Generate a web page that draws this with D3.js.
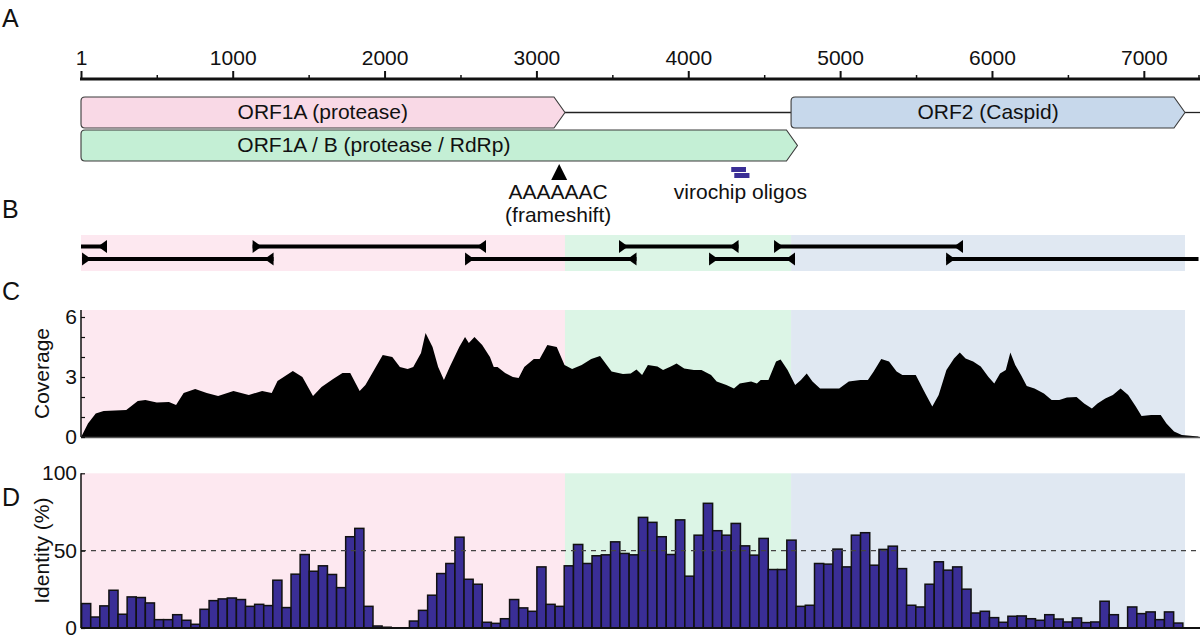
<!DOCTYPE html>
<html><head><meta charset="utf-8">
<script src="https://cdn.jsdelivr.net/npm/d3@7"></script>
<style>
body{margin:0;background:#fff}
svg text{font-family:"Liberation Sans",Arial,Helvetica,sans-serif;fill:#111}
</style>
</head><body>
<svg id="chart" width="1200" height="638"></svg>
<script>
// ---------------- DATA ----------------
const genomeLength = 7360;
const axisMajorTicks = [1, 1000, 2000, 3000, 4000, 5000, 6000, 7000];
const axisMinorTicks = [500, 1500, 2500, 3500, 4500, 5500, 6500, 7360];

const geneNames = ["ORF1A (protease)", "ORF1A / B (protease / RdRp)", "ORF2 (Caspid)"];
const geneStart = [1, 1, 4677];
const geneEnd = [3188, 4719, 7271];
const geneRow = [0, 1, 0];
const geneLabelPos = [1593, 1930, 5974];

const regionStart = [1, 3188, 4677];
const regionEnd = [3188, 4677, 7271];

const frameshiftPos = 3150;
const frameshiftLabel = ["AAAAAAC", "(frameshift)"];
const oligoStart = [4283, 4303];
const oligoEnd = [4380, 4403];
const oligoLabel = "virochip oligos";

// panel B amplicons (row 0 = upper, row 1 = lower)
const ampStart = [1, 1131, 3544, 4565, 8, 2530, 4137, 5698];
const ampEnd = [172, 2668, 4331, 5809, 1269, 3659, 4703, 7360];
const ampRow = [0, 0, 0, 0, 1, 1, 1, 1];
const ampLeftArrow = [false, true, true, true, true, true, true, true];
const ampRightArrow = [true, true, true, true, true, true, true, false];

// panel C coverage
const covPos = [2, 47, 98, 150, 299, 375, 425, 500, 580, 627, 677, 753, 829, 904, 1005, 1106, 1194, 1257, 1295, 1396,
  1459, 1529, 1585, 1661, 1723, 1774, 1836, 1874, 1988, 2051, 2101, 2152, 2189, 2240, 2270, 2316, 2353, 2391, 2429, 2492,
  2530, 2555, 2592, 2643, 2694, 2719, 2744, 2794, 2845, 2883, 2920, 2983, 3021, 3072, 3134, 3185, 3235, 3298, 3361, 3419,
  3495, 3570, 3621, 3659, 3696, 3734, 3797, 3834, 3885, 3923, 3973, 4037, 4087, 4150, 4187, 4251, 4301, 4339, 4414, 4452,
  4477, 4528, 4578, 4608, 4654, 4704, 4742, 4780, 4818, 4868, 4931, 4994, 5057, 5133, 5183, 5221, 5271, 5322, 5372, 5410,
  5498, 5561, 5607, 5649, 5700, 5750, 5788, 5826, 5876, 5926, 5977, 6015, 6053, 6091, 6121, 6153, 6191, 6229, 6280, 6342,
  6393, 6443, 6494, 6557, 6607, 6658, 6695, 6746, 6796, 6847, 6897, 6947, 6985, 7048, 7111, 7149, 7199, 7250, 7360];
const covVal = [0, 0.68, 1.18, 1.3, 1.35, 1.8, 1.85, 1.72, 1.75, 1.6, 2.2, 2.4, 2.2, 2.05, 2.3, 2.1, 2.3, 2.2, 2.8, 3.3,
  3.0, 2.05, 2.5, 2.9, 3.2, 3.2, 2.3, 2.6, 4.1, 4.0, 3.5, 3.4, 3.5, 4.2, 5.2, 4.5, 3.5, 2.85, 3.5, 4.5,
  5.0, 4.7, 5.0, 4.6, 4.0, 3.5, 3.5, 3.2, 3.0, 2.95, 3.5, 3.9, 3.9, 4.6, 4.5, 3.6, 3.4, 3.6, 3.9, 4.05,
  3.27, 3.15, 3.18, 3.38, 3.1, 3.6, 3.52, 3.35, 3.52, 3.68, 3.43, 3.35, 3.35, 3.1, 2.77, 2.6, 2.43, 2.68, 2.77, 2.68,
  2.85, 2.85, 3.77, 3.88, 3.35, 2.6, 2.85, 3.18, 2.77, 2.43, 2.43, 2.43, 2.77, 2.85, 2.85, 3.27, 3.9, 3.77, 3.27, 3.1,
  3.1, 2.18, 1.52, 2.1, 3.35, 3.93, 4.22, 3.93, 3.77, 3.52, 3.0, 2.68, 3.18, 3.35, 4.22, 3.6, 3.1, 2.55, 2.43, 2.18,
  1.85, 1.85, 1.98, 2.0, 1.68, 1.43, 1.68, 1.93, 2.1, 2.43, 2.1, 1.52, 1.05, 1.1, 1.1, 0.68, 0.27, 0.1, 0.02];
const covTicks = [0, 1, 2, 3, 4, 5, 6];
const covLabels = [0, 3, 6];

// panel D identity (%) per window, grouped by ORF region
const identityRegionStart = [5, 3183, 4710];
const identityRegionEnd = [3183, 4710, 7257];
const identityORF1A = [15.8, 7.1, 14.3, 24.4, 8.9, 20.1, 19.7, 16.2, 5.4, 5.4, 8.6, 5.0, 2.4, 12.1, 17.7, 18.8, 19.4, 18.4, 14.0, 15.3,
  14.5, 30.9, 13.2, 34.8, 47.5, 36.7, 40.2, 34.6, 26.1, 59.0, 64.4, 14.0, 1.3, 0.5, 0, 0, 4.5, 11.4, 21.2, 35.2,
  41.7, 58.7, 31.5, 28.3, 3.7, 3.0, 6.0, 18.4, 13.0, 10.8, 39.5, 15.3, 14.0];
const identityORF1B = [40.2, 54.0, 41.7, 46.7, 47.3, 55.7, 48.2, 47.3, 71.5, 68.3, 59.0, 47.5, 69.9, 33.5, 60.0, 80.6, 62.9, 60.0, 67.6, 53.1,
  47.1, 57.9, 37.8, 37.8, 56.8];
const identityORF2 = [14.0, 14.7, 41.7, 41.3, 51.0, 39.5, 60.0, 61.6, 40.6, 50.8, 52.9, 38.4, 14.7, 13.6, 28.3, 42.8, 37.4, 39.5, 25.1, 9.7,
  10.8, 6.7, 3.7, 7.6, 7.8, 6.0, 5.0, 8.6, 5.8, 3.9, 6.5, 3.5, 3.9, 17.3, 8.6, 0, 13.6, 9.3, 10.4, 5.4, 10.4, 3.2];
const identityThreshold = 50;
const identityTicks = [0, 50, 100];

const panelLetters = ["A", "B", "C", "D"];

// ---------------- STYLE ----------------
const geneFill = ["#f9d9e6", "#c4efd5", "#c7d8eb"];
const regionFill = ["#fde8f0", "#dcf5e6", "#e0e8f2"];
const barFill = "#3a2e96";
const FS = 21;

// ---------------- DRAW ----------------
const svg = d3.select("#chart");
const x = d3.scaleLinear().domain([0, genomeLength]).range([80.85, 1198.5]);

// Panel letters
const letterY = [27, 218, 300, 506];
svg.selectAll("text.letter").data(panelLetters).join("text")
  .attr("class", "letter").attr("x", 2).attr("y", (d, i) => letterY[i])
  .style("font-size", "25px").text(d => d);

// ---- Panel A: top axis ----
const axisY = 79;
const gAx = svg.append("g").attr("transform", `translate(0,${axisY})`);
gAx.call(d3.axisTop(x).tickValues(axisMajorTicks).tickSize(8).tickSizeOuter(0).tickPadding(6).tickFormat(d3.format("d")));
gAx.select(".domain").remove();
gAx.selectAll(".tick line").attr("stroke", "#111").attr("stroke-width", 2);
gAx.selectAll(".tick text").style("font-size", FS + "px").style("font-family", '"Liberation Sans",Arial,sans-serif').attr("fill", "#111");
const gAxMin = svg.append("g").attr("transform", `translate(0,${axisY})`);
gAxMin.call(d3.axisTop(x).tickValues(axisMinorTicks).tickSize(4).tickSizeOuter(0).tickFormat(""));
gAxMin.select(".domain").remove();
gAxMin.selectAll(".tick line").attr("stroke", "#111").attr("stroke-width", 1.5);
svg.append("line").attr("x1", x(1) - 1).attr("x2", 1200).attr("y1", axisY).attr("y2", axisY)
  .attr("stroke", "#111").attr("stroke-width", 3);

// ---- genes ----
const rowTop = [97, 130], boxH = 31, tip = 11;
const midY0 = rowTop[0] + boxH / 2;
svg.append("line").attr("x1", x(geneEnd[0])).attr("x2", x(geneStart[2])).attr("y1", midY0).attr("y2", midY0)
  .attr("stroke", "#222").attr("stroke-width", 1.3);
svg.append("line").attr("x1", x(geneEnd[2])).attr("x2", 1200).attr("y1", midY0).attr("y2", midY0)
  .attr("stroke", "#222").attr("stroke-width", 1.3);

function genePath(s, e, top) {
  const x0 = x(s), x1 = x(e), y0 = top, y1 = top + boxH, ym = top + boxH / 2, r = 4;
  return `M${x0 + r},${y0} L${x1 - tip},${y0} L${x1},${ym} L${x1 - tip},${y1} L${x0 + r},${y1} Q${x0},${y1} ${x0},${y1 - r} L${x0},${y0 + r} Q${x0},${y0} ${x0 + r},${y0} Z`;
}
geneNames.forEach((name, i) => {
  svg.append("path").attr("d", genePath(geneStart[i], geneEnd[i], rowTop[geneRow[i]]))
    .attr("fill", geneFill[i]).attr("stroke", "#3a3a3a").attr("stroke-width", 1.1);
});
geneNames.forEach((name, i) => {
  svg.append("text").attr("x", x(geneLabelPos[i])).attr("y", rowTop[geneRow[i]] + 22)
    .attr("text-anchor", "middle").style("font-size", FS + "px").text(name);
});

// frameshift marker
const fx = x(frameshiftPos);
svg.append("path").attr("d", `M${fx - 8},${180} L${fx + 8},${180} L${fx},${164} Z`).attr("fill", "#000");
svg.selectAll("text.fs").data(frameshiftLabel).join("text").attr("class", "fs")
  .attr("x", fx - 1).attr("y", (d, i) => 199 + i * 23).attr("text-anchor", "middle")
  .style("font-size", FS + "px").text(d => d);

// virochip oligos
oligoStart.forEach((s, i) => {
  svg.append("rect").attr("x", x(s)).attr("y", 167 + i * 6).attr("width", x(oligoEnd[i]) - x(s)).attr("height", 5)
    .attr("fill", barFill);
});
svg.append("text").attr("x", x((oligoStart[0] + oligoEnd[1]) / 2)).attr("y", 199).attr("text-anchor", "middle")
  .style("font-size", FS + "px").text(oligoLabel);

// ---- Panel B ----
function regionBands(top, bottom) {
  regionStart.forEach((s, i) => {
    svg.append("rect").attr("x", x(s)).attr("y", top).attr("width", x(regionEnd[i]) - x(s)).attr("height", bottom - top)
      .attr("fill", regionFill[i]);
  });
}
regionBands(235, 271);
const ampY = [246.5, 259];
ampStart.forEach((s, i) => {
  const y = ampY[ampRow[i]], x0 = x(s), x1 = x(ampEnd[i]);
  svg.append("line").attr("x1", x0).attr("x2", x1).attr("y1", y).attr("y2", y).attr("stroke", "#000").attr("stroke-width", 4);
  if (ampLeftArrow[i]) svg.append("path").attr("d", `M${x0},${y - 6.5} L${x0},${y + 6.5} L${x0 + 9},${y} Z`).attr("fill", "#000");
  if (ampRightArrow[i]) svg.append("path").attr("d", `M${x1},${y - 6.5} L${x1},${y + 6.5} L${x1 - 9},${y} Z`).attr("fill", "#000");
});

// ---- Panel C ----
const cTop = 310, cBot = 437;
const yC = d3.scaleLinear().domain([0, 6.35]).range([cBot, cTop]);
regionBands(cTop, cBot);
const covData = covPos.map((p, i) => [p, covVal[i]]);
svg.append("path").datum(covData)
  .attr("d", d3.area().x(d => x(d[0])).y0(yC(0)).y1(d => yC(d[1])))
  .attr("fill", "#000");
svg.append("line").attr("x1", x(1)).attr("x2", 1200).attr("y1", cBot + 0.5).attr("y2", cBot + 0.5).attr("stroke", "#555").attr("stroke-width", 1.5);
const gC = svg.append("g").attr("transform", `translate(${x(1)},0)`);
gC.call(d3.axisLeft(yC).tickValues(covTicks).tickSize(-4).tickSizeOuter(0).tickFormat(""));
gC.select(".domain").attr("d", `M0,${cTop}V${cBot}`).attr("stroke", "#111").attr("stroke-width", 1.5);
gC.selectAll(".tick line").attr("stroke", "#111").attr("stroke-width", 1.2);
svg.selectAll("text.cl").data(covLabels).join("text").attr("class", "cl")
  .attr("x", x(1) - 4).attr("y", d => yC(d) + 7).attr("text-anchor", "end").style("font-size", FS + "px").text(d => d);
svg.append("text").attr("transform", `translate(49,${(cTop + cBot) / 2}) rotate(-90)`).attr("text-anchor", "middle")
  .style("font-size", "21px").text("Coverage");

// ---- Panel D ----
const dTop = 473.3, dBot = 628;
const yD = d3.scaleLinear().domain([0, 100]).range([dBot, dTop]);
regionBands(dTop, dBot);
const identityGroups = [identityORF1A, identityORF1B, identityORF2];
identityGroups.forEach((vals, g) => {
  const xb = d3.scaleBand().domain(d3.range(vals.length))
    .range([x(identityRegionStart[g]), x(identityRegionEnd[g])]).paddingInner(0);
  svg.append("g").selectAll("rect").data(vals).join("rect")
    .attr("x", (d, i) => xb(i)).attr("width", xb.bandwidth())
    .attr("y", d => yD(d)).attr("height", d => dBot - yD(d))
    .attr("fill", barFill).attr("stroke", "#111").attr("stroke-width", 1.5);
});
svg.append("line").attr("x1", x(1)).attr("x2", 1200).attr("y1", yD(identityThreshold)).attr("y2", yD(identityThreshold))
  .attr("stroke", "#444").attr("stroke-width", 1.1).attr("stroke-dasharray", "5,5");
svg.append("line").attr("x1", x(1)).attr("x2", 1200).attr("y1", dBot).attr("y2", dBot).attr("stroke", "#111").attr("stroke-width", 2);
const gD = svg.append("g").attr("transform", `translate(${x(1)},0)`);
gD.call(d3.axisLeft(yD).tickValues(identityTicks).tickSize(-4).tickSizeOuter(0).tickFormat(""));
gD.select(".domain").attr("d", `M0,${dTop}V${dBot}`).attr("stroke", "#111").attr("stroke-width", 1.5);
gD.selectAll(".tick line").attr("stroke", "#111").attr("stroke-width", 1.2);
svg.selectAll("text.dl").data(identityTicks).join("text").attr("class", "dl")
  .attr("x", x(1) - 4).attr("y", d => yD(d) + 7).attr("text-anchor", "end").style("font-size", FS + "px").text(d => d);
svg.append("text").attr("transform", `translate(49,${(dTop + dBot) / 2}) rotate(-90)`).attr("text-anchor", "middle")
  .style("font-size", "21px").text("Identity (%)");
</script>
</body></html>
